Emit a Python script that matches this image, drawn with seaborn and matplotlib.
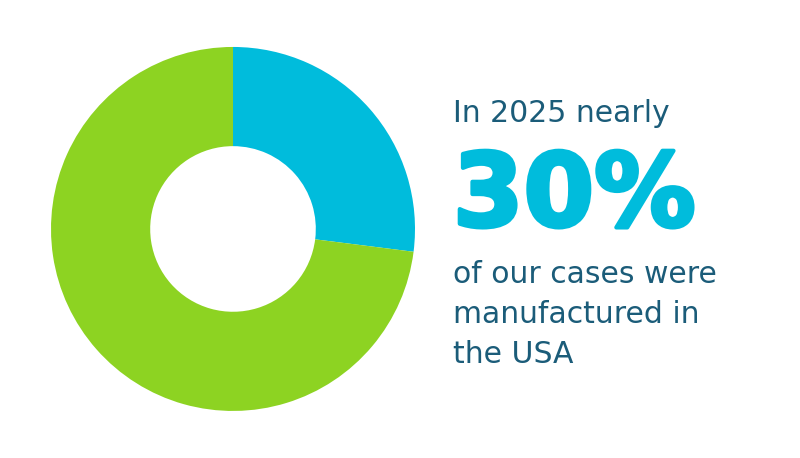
import matplotlib
matplotlib.use("Agg")
import matplotlib.pyplot as plt
import matplotlib.patheffects as pe
import seaborn as sns

# share of cases by manufacturing location
labels = ["USA", "Elsewhere"]
shares = [27, 73]
colors = ["#00BCDC", "#8DD322"]
text_color = "#1B5C79"

sns.set_theme(style="white")
plt.rcParams['font.family'] = ['DejaVu Sans']

fig = plt.figure(figsize=(8, 4.58), dpi=100)
ax = fig.add_axes([0.06375, 0.1026, 0.455, 0.795])
ax.pie(shares, colors=colors, startangle=90, counterclock=False,
       wedgeprops=dict(width=0.545, linewidth=0), radius=1)
ax.set_xlim(-1, 1)
ax.set_ylim(-1, 1)
ax.set_aspect("equal")
ax.axis("off")

x0 = 453 / 800
def fy(py):
    return 1 - py / 458

fig.text(x0, fy(122), "In 2025 nearly", fontsize=21.5, color=text_color, va="baseline")
fig.text(x0, fy(226), "30%", fontsize=73, fontweight="bold", color=colors[0], va="baseline",
         path_effects=[pe.withStroke(linewidth=3, foreground=colors[0])])
for i, line in enumerate(["of our cases were", "manufactured in", "the USA"]):
    fig.text(x0, fy(283 + 40 * i), line, fontsize=21.5, color=text_color, va="baseline")

fig.savefig("out.png", dpi=100)
